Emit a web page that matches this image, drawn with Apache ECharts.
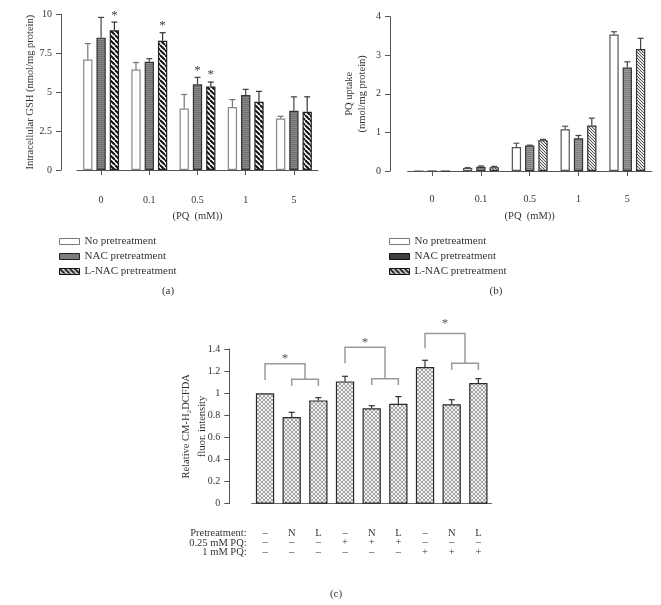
<!DOCTYPE html>
<html><head><meta charset="utf-8">
<script src="https://cdn.jsdelivr.net/npm/echarts@6/dist/echarts.min.js"></script>
<style>html,body{margin:0;padding:0;background:#fff}#c{width:661px;height:605px}</style>
</head><body><div id="c"></div>
<script>
// ---------- data ----------
const pqCats = ['0', '0.1', '0.5', '1', '5'];
const seriesNames = ['No pretreatment', 'NAC pretreatment', 'L-NAC pretreatment'];
// Panel (a): intracellular GSH
const gshNone = [7.1, 6.45, 3.95, 4.05, 3.3];
const gshNoneErr = [8.12, 6.9, 4.85, 4.52, 3.45];
const gshNac = [8.5, 6.95, 5.5, 4.82, 3.8];
const gshNacErr = [9.8, 7.15, 5.95, 5.18, 4.7];
const gshLnac = [8.97, 8.3, 5.37, 4.38, 3.74];
const gshLnacErr = [9.5, 8.82, 5.65, 5.05, 4.7];
const gshNacSig = [0, 0, 1, 0, 0];
const gshLnacSig = [1, 1, 1, 0, 0];
// Panel (b): PQ uptake
const upNone = [0, 0.08, 0.62, 1.08, 3.54];
const upNoneErr = [0, 0.09, 0.72, 1.16, 3.61];
const upNac = [0, 0.11, 0.66, 0.85, 2.68];
const upNacErr = [0, 0.13, 0.67, 0.92, 2.83];
const upLnac = [0, 0.1, 0.8, 1.18, 3.16];
const upLnacErr = [0, 0.12, 0.82, 1.37, 3.44];
// Panel (c): relative fluorescence
const pretreatRow = ['–', 'N', 'L', '–', 'N', 'L', '–', 'N', 'L'];
const pq025Row = ['–', '–', '–', '+', '+', '+', '–', '–', '–'];
const pq1Row = ['–', '–', '–', '–', '–', '–', '+', '+', '+'];
const dcf = [1.0, 0.785, 0.935, 1.107, 0.863, 0.905, 1.237, 0.899, 1.092];
const dcfErr = [1.0, 0.827, 0.96, 1.153, 0.887, 0.969, 1.298, 0.941, 1.132];
// significance brackets (category indices and y levels)
const bracketCtrl = [0, 3, 6];
const bracketFrom = [1, 4, 7];
const bracketTo = [2, 5, 8];
const bracketTop = [1.267, 1.415, 1.54];
const bracketLeg = [1.12, 1.27, 1.406];
const bracketSub = [1.126, 1.13, 1.27];
const bracketTick = [1.065, 1.074, 1.21];
const bracketStar = [1.31, 1.457, 1.63];

// ---------- styles ----------
const FONT = 'Liberation Serif';
const AX = '#555';
const TXT = '#333';
function makePattern(size, bg, drawFn) {
  const cv = document.createElement('canvas'); cv.width = size; cv.height = size;
  const g = cv.getContext('2d'); g.fillStyle = bg; g.fillRect(0, 0, size, size); drawFn(g, size);
  return { image: cv, repeat: 'repeat' };
}
const hLines = (col, w, step) => (g, s) => { g.strokeStyle = col; g.lineWidth = w; for (let y = 0.5; y < s; y += step) { g.beginPath(); g.moveTo(0, y); g.lineTo(s, y); g.stroke(); } };
const bDiag = (col, w) => (g, s) => { g.strokeStyle = col; g.lineWidth = w; g.beginPath(); for (let k = -1; k <= 1; k++) { g.moveTo(k * s, 0); g.lineTo(k * s + s, s); } g.stroke(); };
const xHatch = (col, w) => (g, s) => { g.strokeStyle = col; g.lineWidth = w; g.beginPath(); for (let k = -1; k <= 1; k++) { g.moveTo(k * s, 0); g.lineTo(k * s + s, s); g.moveTo(k * s + s, 0); g.lineTo(k * s, s); } g.stroke(); };

const patGrayA = makePattern(4, '#8c8c8c', hLines('#6c6c6c', 1, 2));
const patHatchA = makePattern(5, '#ffffff', bDiag('#111', 2));
const patGrayB = makePattern(4, '#9c9c9c', hLines('#7a7a7a', 1, 2));
const patHatchB = makePattern(3, '#e6e6e6', bDiag('#555', 1));
const patDarkB = makePattern(4, '#2a2a2a', hLines('#555', 1, 2));
const patCross = makePattern(4, '#f2f2f2', xHatch('#8f8f8f', 0.8));

const BW = 9.3, STEP = 13.3;

function errSeries(xi, vals, errs, off, color, sig) {
  return {
    type: 'custom', xAxisIndex: xi, yAxisIndex: xi, silent: true, z: 5, clip: false,
    data: vals.map((v, i) => [i, v, errs[i], sig ? sig[i] : 0]),
    encode: { x: 0, y: [1, 2] },
    renderItem: (params, api) => {
      const i = api.value(0), v = api.value(1), e = api.value(2), s = api.value(3);
      const p0 = api.coord([i, v]), p1 = api.coord([i, e]);
      const x = p0[0] + off;
      const ch = [];
      if (e > v) {
        ch.push({ type: 'line', shape: { x1: x, y1: p0[1], x2: x, y2: p1[1] }, style: { stroke: color, lineWidth: 1.2 } });
        ch.push({ type: 'line', shape: { x1: x - 3, y1: p1[1], x2: x + 3, y2: p1[1] }, style: { stroke: color, lineWidth: 1.2 } });
      }
      if (s) ch.push({ type: 'text', x: x, y: p1[1] - 7, style: { text: '*', align: 'center', verticalAlign: 'middle', fontSize: 13, fontFamily: FONT, fill: '#444' } });
      return { type: 'group', children: ch };
    }
  };
}

function barSeries(xi, name, data, style) {
  return { type: 'bar', name: name, xAxisIndex: xi, yAxisIndex: xi, data: data, barWidth: BW, barGap: '43%', silent: true, itemStyle: style, z: 3 };
}

function yAxisCfg(grid, min, max, interval, offset, name, nameGap, lineHeight, fmt) {
  return {
    gridIndex: grid, type: 'value', min: min, max: max, interval: interval, offset: offset,
    axisLine: { show: true, lineStyle: { color: AX, width: 1 } },
    axisTick: { show: true, length: 5, lineStyle: { color: AX } },
    splitLine: { show: false },
    axisLabel: { color: TXT, fontSize: 10, fontFamily: FONT, margin: 9, formatter: fmt },
    name: name, nameLocation: 'middle', nameGap: nameGap, nameMoveOverlap: false,
    nameTextStyle: { color: TXT, fontSize: 10.5, fontFamily: FONT, lineHeight: lineHeight }
  };
}
function xAxisPQ(grid, offset) {
  return {
    gridIndex: grid, type: 'category', data: pqCats, offset: offset,
    axisLine: { show: true, lineStyle: { color: AX } },
    axisTick: { show: true, alignWithLabel: true, length: 5, lineStyle: { color: AX } },
    axisLabel: { color: TXT, fontSize: 10, fontFamily: FONT, margin: 7 },
    name: '(PQ  (mM))', nameLocation: 'middle', nameGap: 23,
    nameTextStyle: { color: TXT, fontSize: 10.5, fontFamily: FONT }
  };
}

const option = {
  animation: false,
  backgroundColor: '#fff',
  grid: [
    { left: 77, top: 14.3, width: 241, height: 155.7 },
    { left: 407.7, top: 16.7, width: 244, height: 154.3 },
    { left: 251.7, top: 349, width: 240, height: 154.7 }
  ],
  xAxis: [
    xAxisPQ(0, 18),
    xAxisPQ(1, 16.7),
    {
      gridIndex: 2, type: 'category', data: pretreatRow.map((_, i) => String(i)), offset: 17.3,
      axisLine: { show: true, lineStyle: { color: '#666' } },
      axisTick: { show: false },
      axisLabel: {
        color: TXT, fontSize: 10.5, fontFamily: FONT, margin: 7, lineHeight: 9.7, interval: 0,
        formatter: (v, i) => pretreatRow[i] + '\n' + pq025Row[i] + '\n' + pq1Row[i]
      }
    }
  ],
  yAxis: [
    yAxisCfg(0, 0, 10, 2.5, 16, 'Intracellular GSH (nmol/mg protein)', 25, 12),
    yAxisCfg(1, 0, 4, 1, 17.7, 'PQ uptake\n(nmol/mg protein)', 21, 13),
    yAxisCfg(2, 0, 1.4, 0.2, 22.4, 'Relative CM-H₂DCFDA\nfluor. intensity', 19, 16, v => (Math.round(v * 10) / 10).toString())
  ],
  legend: [
    {
      orient: 'vertical', left: 54, top: 231, itemWidth: 20, itemHeight: 6, itemGap: 4, icon: 'rect', selectedMode: false,
      textStyle: { color: TXT, fontSize: 11, fontFamily: FONT },
      data: [
        { name: seriesNames[0], itemStyle: { color: '#fff', borderColor: '#777', borderWidth: 1 } },
        { name: seriesNames[1], itemStyle: { color: patGrayA, borderColor: '#222', borderWidth: 1 } },
        { name: seriesNames[2], itemStyle: { color: patHatchA, borderColor: '#111', borderWidth: 1 } }
      ]
    },
    {
      orient: 'vertical', left: 384, top: 231, itemWidth: 20, itemHeight: 6, itemGap: 4, icon: 'rect', selectedMode: false,
      textStyle: { color: TXT, fontSize: 11, fontFamily: FONT },
      data: [
        { name: seriesNames[0], itemStyle: { color: '#fff', borderColor: '#777', borderWidth: 1 } },
        { name: seriesNames[1], itemStyle: { color: patDarkB, borderColor: '#111', borderWidth: 1 } },
        { name: seriesNames[2], itemStyle: { color: patHatchA, borderColor: '#111', borderWidth: 1 } }
      ]
    }
  ],
  graphic: [
    { type: 'text', x: 168, y: 291, style: { text: '(a)', align: 'center', verticalAlign: 'middle', fontSize: 11, fontFamily: FONT, fill: TXT } },
    { type: 'text', x: 496, y: 291, style: { text: '(b)', align: 'center', verticalAlign: 'middle', fontSize: 11, fontFamily: FONT, fill: TXT } },
    { type: 'text', x: 336, y: 594, style: { text: '(c)', align: 'center', verticalAlign: 'middle', fontSize: 11, fontFamily: FONT, fill: TXT } },
    { type: 'text', x: 246.7, y: 533.3, style: { text: 'Pretreatment:', align: 'right', verticalAlign: 'middle', fontSize: 10.5, fontFamily: FONT, fill: TXT } },
    { type: 'text', x: 246.7, y: 543.1, style: { text: '0.25 mM PQ:', align: 'right', verticalAlign: 'middle', fontSize: 10.5, fontFamily: FONT, fill: TXT } },
    { type: 'text', x: 246.7, y: 552.7, style: { text: '1 mM PQ:', align: 'right', verticalAlign: 'middle', fontSize: 10.5, fontFamily: FONT, fill: TXT } }
  ],
  series: [
    // panel a
    barSeries(0, seriesNames[0], gshNone, { color: '#fff', borderColor: '#888', borderWidth: 1.2 }),
    barSeries(0, seriesNames[1], gshNac, { color: patGrayA, borderColor: '#333', borderWidth: 1.2 }),
    barSeries(0, seriesNames[2], gshLnac, { color: patHatchA, borderColor: '#222', borderWidth: 1.2 }),
    errSeries(0, gshNone, gshNoneErr, -STEP, '#777'),
    errSeries(0, gshNac, gshNacErr, 0, '#444', gshNacSig),
    errSeries(0, gshLnac, gshLnacErr, STEP, '#333', gshLnacSig),
    // panel b
    barSeries(1, seriesNames[0], upNone, { color: '#fff', borderColor: '#555', borderWidth: 1.2 }),
    barSeries(1, seriesNames[1], upNac, { color: patGrayB, borderColor: '#333', borderWidth: 1.2 }),
    barSeries(1, seriesNames[2], upLnac, { color: patHatchB, borderColor: '#333', borderWidth: 1.2 }),
    errSeries(1, upNone, upNoneErr, -STEP, '#555'),
    errSeries(1, upNac, upNacErr, 0, '#444'),
    errSeries(1, upLnac, upLnacErr, STEP, '#444'),
    // panel c
    { type: 'bar', name: 'DCF', xAxisIndex: 2, yAxisIndex: 2, data: dcf, barWidth: 18.3, silent: true,
      itemStyle: { color: patCross, borderColor: '#2a2a2a', borderWidth: 1.2 } },
    errSeries(2, dcf, dcfErr, 0, '#333'),
    {
      type: 'custom', xAxisIndex: 2, yAxisIndex: 2, silent: true, clip: false, z: 6,
      data: bracketCtrl.map((c, i) => [c, bracketFrom[i], bracketTo[i], bracketTop[i], bracketLeg[i], bracketSub[i], bracketTick[i], bracketStar[i]]),
      encode: { x: [0, 1, 2], y: [3, 4, 5, 6, 7] },
      renderItem: (params, api) => {
        const top = api.coord([api.value(0), api.value(3)]);
        const leg = api.coord([api.value(0), api.value(4)]);
        const s1 = api.coord([api.value(1), api.value(5)]);
        const s2 = api.coord([api.value(2), api.value(5)]);
        const tk = api.coord([api.value(1), api.value(6)]);
        const st = api.coord([api.value(0), api.value(7)]);
        const xm = (s1[0] + s2[0]) / 2;
        const ls = { stroke: '#999', lineWidth: 1.5, fill: null };
        return {
          type: 'group', children: [
            { type: 'polyline', shape: { points: [[leg[0], leg[1]], [top[0], top[1]], [xm, top[1]], [xm, s1[1]]] }, style: ls },
            { type: 'polyline', shape: { points: [[s1[0], tk[1]], [s1[0], s1[1]], [s2[0], s1[1]], [s2[0], tk[1]]] }, style: ls },
            { type: 'text', x: (top[0] + xm) / 2, y: st[1], style: { text: '*', align: 'center', verticalAlign: 'middle', fontSize: 13, fontFamily: FONT, fill: '#555' } }
          ]
        };
      }
    }
  ]
};
const chart = echarts.init(document.getElementById('c'), null, { renderer: 'canvas' });
chart.setOption(option);
</script></body></html>
